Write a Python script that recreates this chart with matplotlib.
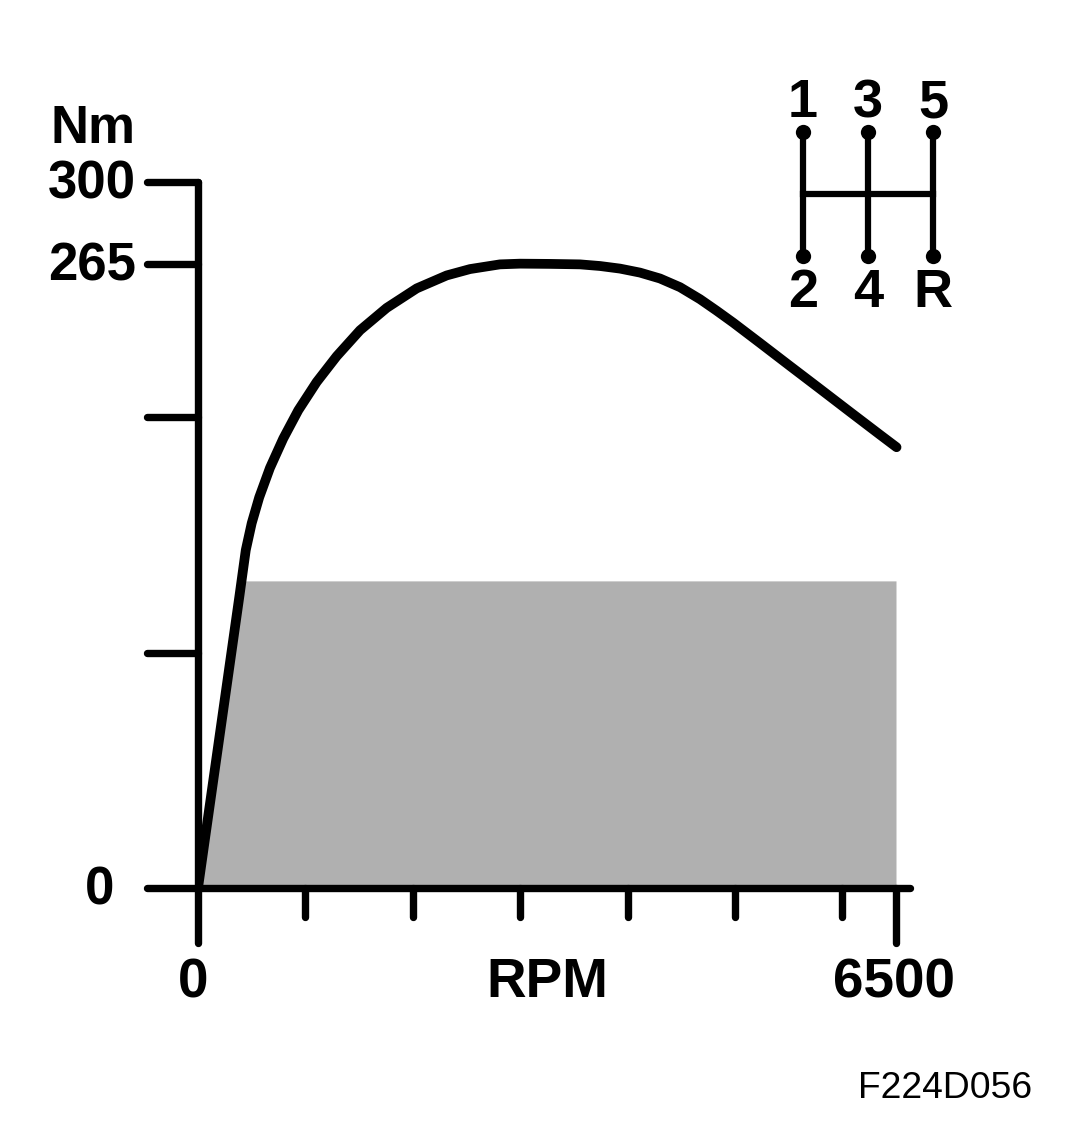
import matplotlib
matplotlib.use("Agg")
import matplotlib.pyplot as plt
from matplotlib.markers import MarkerStyle, TICKDOWN, TICKLEFT
from matplotlib.transforms import ScaledTranslation

rpm = [0, 385, 445, 500, 570, 670, 794, 934, 1105, 1292, 1509, 1757, 2037, 2316, 2533, 2812,
       2999, 3278, 3557, 3744, 3930, 4116, 4302, 4489, 4675, 4830, 4985, 5233, 5513, 5792, 6072, 6351, 6505]
torque = [0, 123.8, 143.6, 155, 166, 178.5, 191, 203, 215, 226, 237, 246.5, 254.8, 260.3, 263, 265,
          265.3, 265.2, 265, 264.3, 263.2, 261.5, 259, 255.3, 250.2, 245.3, 240.2, 231.6, 221.8, 212.1, 202.3, 192.6, 187.3]
band_rpm = [0, 419, 6500]
band_top = [0, 130.5, 130.5]
y_ticks = [0, 100, 200, 265, 300]
y_labels = ["0", "", "", "265", "300"]
x_major = [0, 6500]
x_major_labels = ["0", "6500"]
x_minor = [1000, 2000, 3000, 4000, 5000, 6000]
gear_cols = [1, 2, 3]
gear_top = ["1", "3", "5"]
gear_bottom = ["2", "4", "R"]

W, H = 1066, 1126
PX = 0.72  # points per pixel at dpi 100
plt.rcParams["font.family"] = ["Liberation Sans", "DejaVu Sans"]
fig = plt.figure(figsize=(W / 100, H / 100), dpi=100)
LW = 5.3
FS = 39.5
FSY = 38
ax = fig.add_axes([198 / W, 1 - 888 / H, (910 - 198) / W, (888 - 182) / H])
ax.set_xlim(0, 6500 * (910 - 198) / (896 - 198))
ax.set_ylim(0, 300)
ax.patch.set_visible(False)
for s in ("top", "right"):
    ax.spines[s].set_visible(False)
for s in ("left", "bottom"):
    ax.spines[s].set_linewidth(LW)
    ax.spines[s].set_capstyle("round")
ax.fill_between(band_rpm, 0, band_top, color="#b0b0b0", lw=0, zorder=1)
ax.plot(rpm, torque, color="black", lw=7.0, solid_capstyle="round", solid_joinstyle="round", zorder=3)
ax.set_yticks(y_ticks, y_labels, fontsize=FSY, fontweight="bold")
ax.tick_params(axis="y", length=36.7, width=LW, pad=8.2)
ax.set_xticks(x_major, x_major_labels, fontsize=FS, fontweight="bold")
ax.set_xticks(x_minor, minor=True)
ax.tick_params(axis="x", which="major", length=39.7, width=LW, pad=10.4)
ax.tick_params(axis="x", which="minor", length=21, width=LW)

for t in ax.yaxis.get_major_ticks():
    t.tick1line.set_marker(MarkerStyle(TICKLEFT, capstyle="round"))
for t in ax.xaxis.get_major_ticks() + ax.xaxis.get_minor_ticks():
    t.tick1line.set_marker(MarkerStyle(TICKDOWN, capstyle="round"))


def shift(label, dx_px, dy_px):
    label.set_transform(label.get_transform() + ScaledTranslation(dx_px * PX / 72, dy_px * PX / 72, fig.dpi_scale_trans))


ylabs = ax.get_yticklabels()
shift(ylabs[0], -21, 3)
shift(ylabs[3], 0, 3)
shift(ylabs[4], 0, 3)
xlabs = ax.get_xticklabels()
shift(xlabs[0], -5, 0)
shift(xlabs[1], -2, 0)

ax.text(3250, -(997 - 888) / 706, "RPM", fontsize=FS, fontweight="bold", ha="center", va="baseline",
        transform=ax.get_xaxis_transform())
fig.text(135 / W, 1 - 143 / H, "Nm", fontsize=FSY, fontweight="bold", ha="right", va="baseline")
fig.text(1032 / W, 1 - 1088 / H, "F224D056", fontsize=26.8, ha="right", va="center")

gx = fig.add_axes([803 / W, 1 - 256 / H, (933 - 803) / W, (256 - 132) / H])
gx.set_xlim(1, 3)
gx.set_ylim(0, 1)
gx.axis("off")
for c, top, bot in zip(gear_cols, gear_top, gear_bottom):
    gx.plot([c, c], [0, 1], color="black", lw=4.5, marker="o", ms=11, mew=0, clip_on=False)
    gx.annotate(top, (c, 1), xytext=(0, 15 * PX), textcoords="offset points", ha="center", va="baseline",
                fontsize=39, fontweight="bold")
    gx.annotate(bot, (c, 0), xytext=(0, -51 * PX), textcoords="offset points", ha="center", va="baseline",
                fontsize=39, fontweight="bold")
gx.plot([gear_cols[0], gear_cols[-1]], [0.5, 0.5], color="black", lw=4.5, clip_on=False)
fig.savefig("out.png", dpi=100, facecolor="white")
